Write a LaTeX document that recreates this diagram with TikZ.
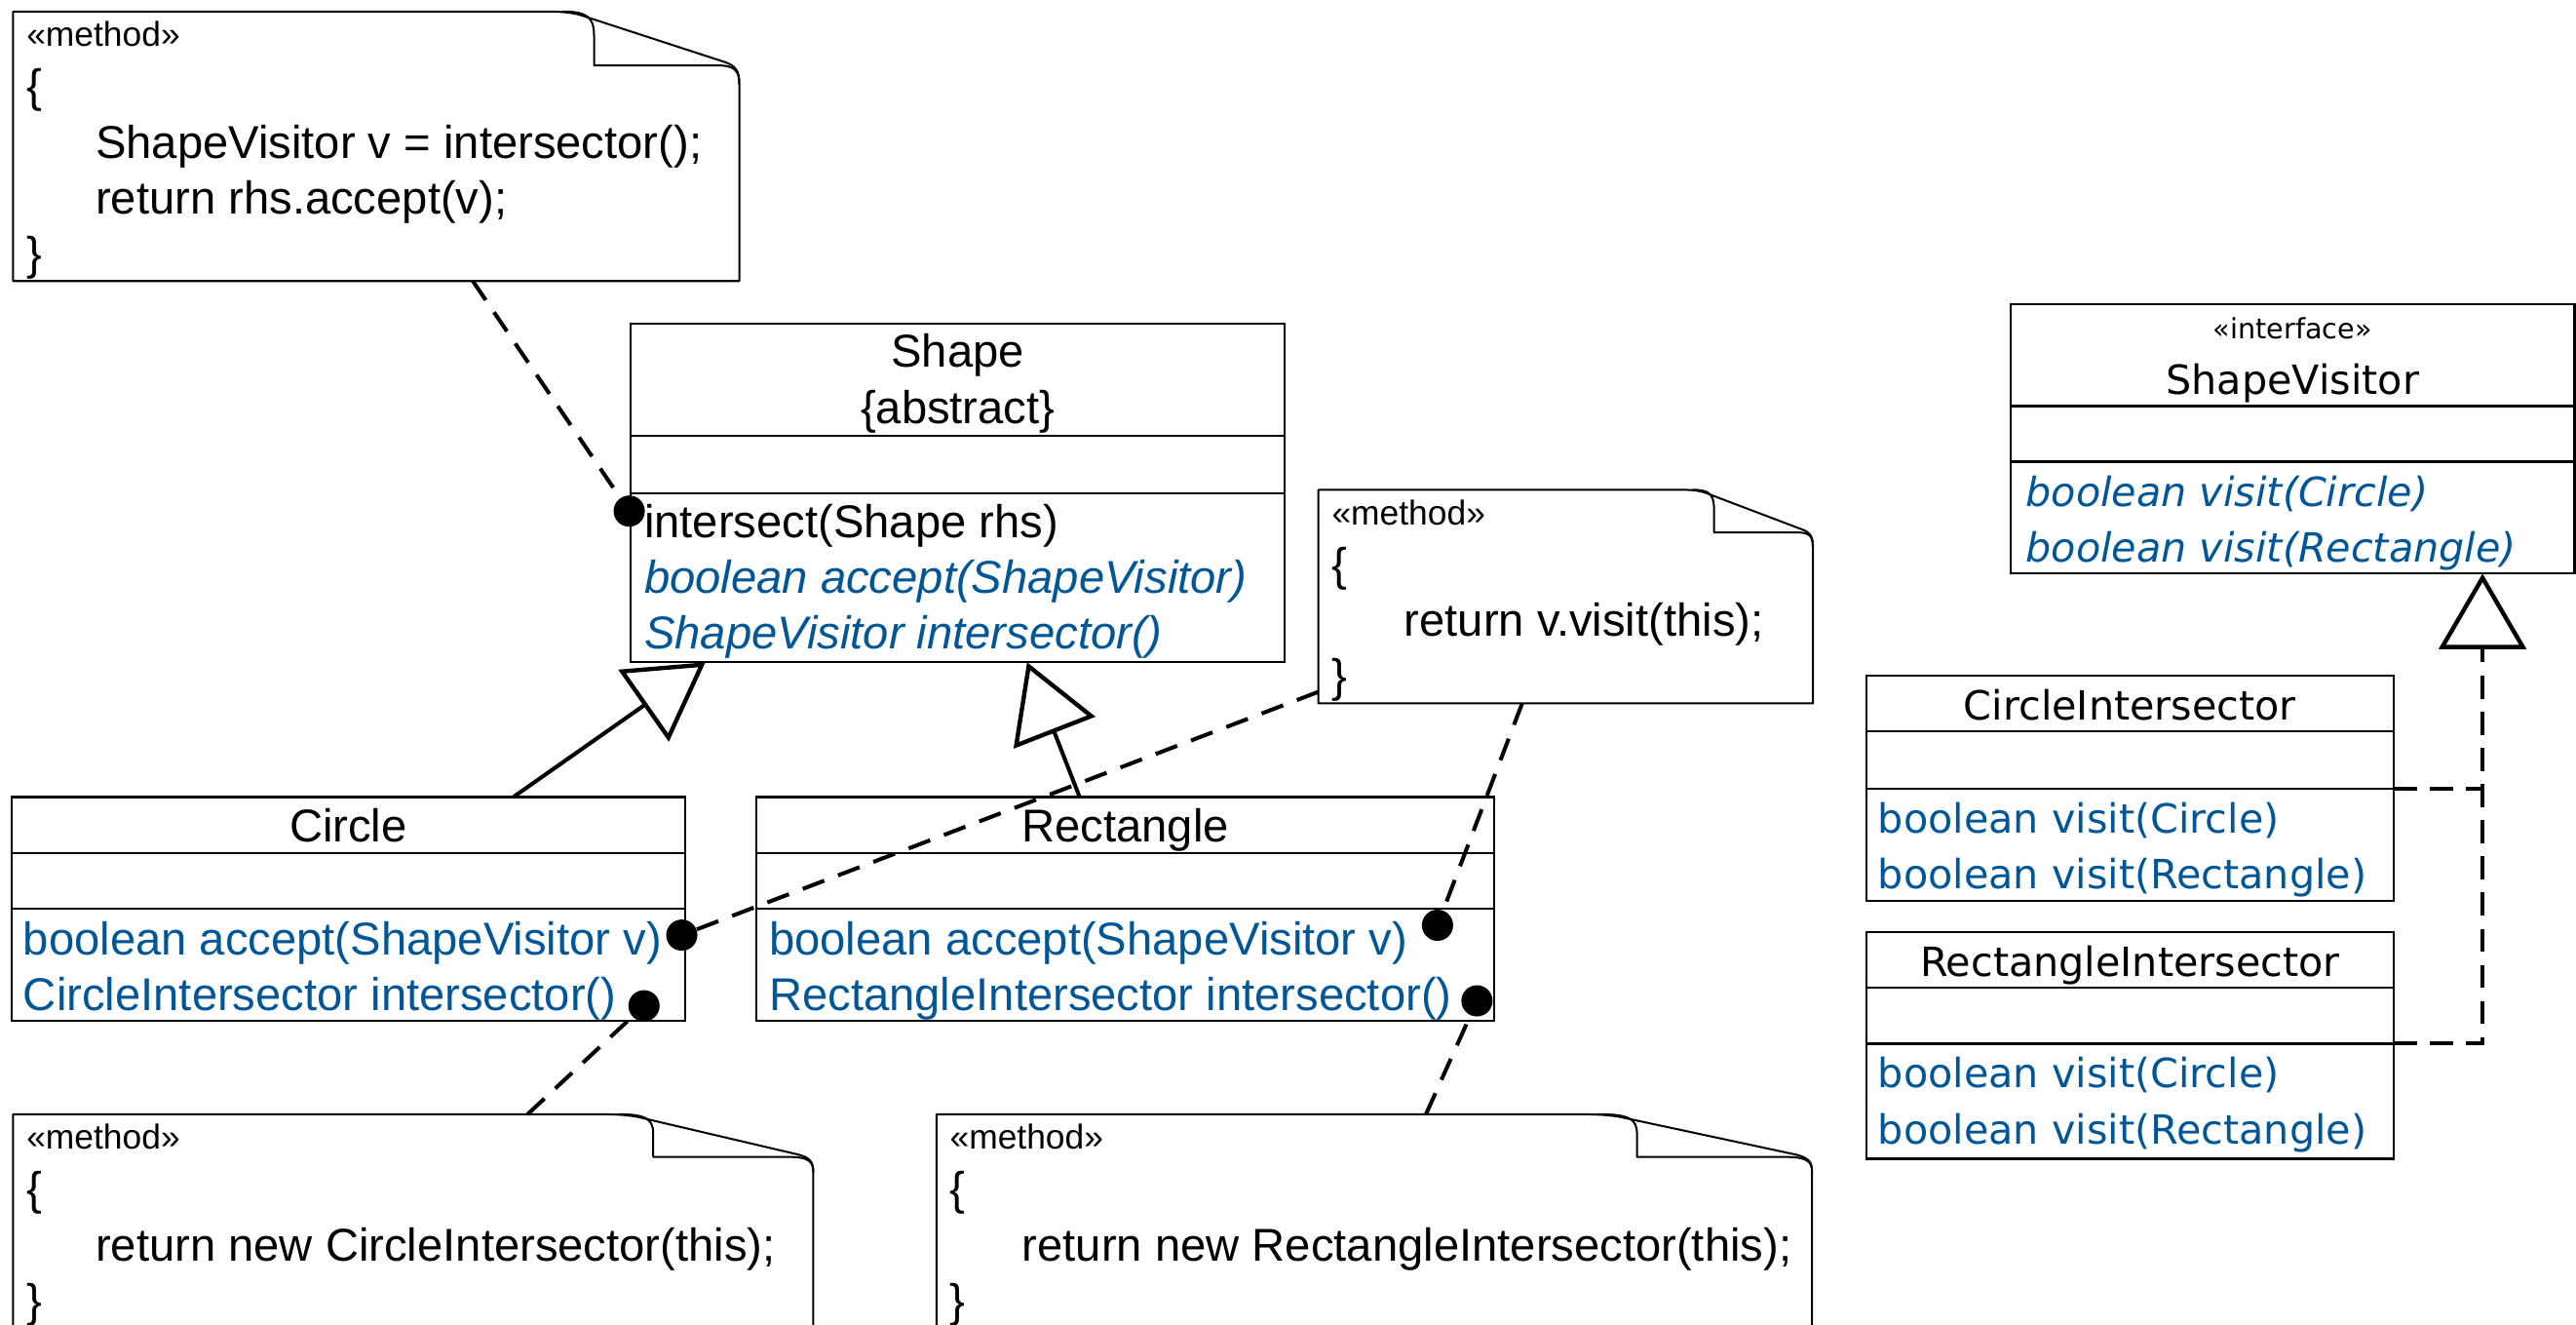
\documentclass[tikz,border=0pt]{standalone}
\usepackage{fontspec}
\setmainfont{Liberation Sans}
\newfontfamily\visfont{DejaVu Sans}
\usepackage{xcolor}
\usepackage{tikz}
\usetikzlibrary{arrows.meta}
\usetikzlibrary{positioning}
\usetikzlibrary{calc}
\definecolor{umlblue}{RGB}{0,86,150}

\newcommand\bodyfont{\fontsize{28}{34}\selectfont}
\newcommand\tagfont{\fontsize{21}{34}\selectfont}
\newcommand\rightfont{\visfont\fontsize{24.5}{34}\selectfont}
\newcommand\rtagfont{\visfont\fontsize{17}{34}\selectfont}

\tikzset{
	classbox/.style={draw, line width=1.4pt, inner sep=0pt, outer sep=0pt, anchor=north west},
	classline/.style={line width=1.4pt},
	classname/.style={inner sep=0pt, anchor=base, font=\bodyfont},
	member/.style={inner sep=0pt, anchor=base west, font=\bodyfont, text=umlblue},
	absmember/.style={member, font=\bodyfont\itshape},
	notebox/.style={inner sep=0pt, outer sep=0pt, anchor=north west},
	notetext/.style={inner sep=0pt, anchor=north west, align=left, font=\bodyfont},
	notefold/.style={line width=1.2pt, line join=round},
	anchordot/.style={circle, fill=black, inner sep=0pt, minimum size=19pt},
	notelink/.style={line width=2.4pt, dash pattern=on 14pt off 9pt},
	extends/.style={line width=2.4pt, -{Triangle[open, length=46pt, width=53pt, line width=2.6pt]}},
	realizes/.style={extends, dash pattern=on 14pt off 8pt},
}

% note outline with folded corner: #1 node, #2 fold width, #3 fold height
\newcommand\dogear[3]{%
	\begin{scope}[shift={(#1.north east)}]
		\pgfmathsetmacro\fw{#2}
		\pgfmathsetmacro\fh{#3}
		\draw[notefold] (#1.north west) -- (-1.35*\fw,0) .. controls (-1.22*\fw,0) and (-1.16*\fw,0.02*\fh) .. (-1.1*\fw,0.06*\fh)
			-- (-0.12*\fw,0.92*\fh) .. controls (-0.02*\fw,\fh) and (0,1.1*\fh) .. (0,1.35*\fh)
			-- (#1.south east) -- (#1.south west) -- cycle;
		\draw[notefold] (-1.22*\fw,0) .. controls (-1.05*\fw,0) and (-\fw,0.1*\fh) .. (-\fw,0.45*\fh)
			-- (-\fw,\fh) -- (-0.15*\fw,\fh) .. controls (-0.03*\fw,\fh) and (0,1.1*\fh) .. (0,1.35*\fh);
	\end{scope}}

\begin{document}
\begin{tikzpicture}[x=1pt, y=-1pt]
	\useasboundingbox (0,0) rectangle (1568,806);

	% classes
	\node[classbox, minimum width=398pt, minimum height=206pt] (shape) at (384,197) {};
	\draw[classline] ($(shape.north west)+(0,68)$) -- ($(shape.north east)+(0,68)$);
	\draw[classline] ($(shape.north west)+(0,103)$) -- ($(shape.north east)+(0,103)$);
	\node[classname] (shapeName) at (583,223.5) {Shape};
	\node[classname] (shapeAbs) at (583,257.5) {\{abstract\}};
	\node[member, text=black] (shapeOpA) at (392,327) {intersect(Shape rhs)};
	\node[absmember] (shapeOpB) at (392,361) {boolean accept(ShapeVisitor)};
	\node[absmember] (shapeOpC) at (392,395) {ShapeVisitor intersector()};

	\node[classbox, minimum width=410pt, minimum height=136pt] (circle) at (7,485) {};
	\draw[classline] ($(circle.north west)+(0,34)$) -- ($(circle.north east)+(0,34)$);
	\draw[classline] ($(circle.north west)+(0,68)$) -- ($(circle.north east)+(0,68)$);
	\node[classname] (circleName) at (212,512.5) {Circle};
	\node[member] (circleOpA) at (14,581) {boolean accept(ShapeVisitor v)};
	\node[member] (circleOpB) at (14,615) {CircleIntersector intersector()};

	\node[classbox, minimum width=449pt, minimum height=136pt] (rect) at (460.5,485) {};
	\draw[classline] ($(rect.north west)+(0,34)$) -- ($(rect.north east)+(0,34)$);
	\draw[classline] ($(rect.north west)+(0,68)$) -- ($(rect.north east)+(0,68)$);
	\node[classname] (rectName) at (685,512.5) {Rectangle};
	\node[member] (rectOpA) at (468,581) {boolean accept(ShapeVisitor v)};
	\node[member] (rectOpB) at (468,615) {RectangleIntersector intersector()};

	\node[classbox, minimum width=343pt, minimum height=164pt] (visitor) at (1224,185) {};
	\draw[classline] ($(visitor.north west)+(0,62)$) -- ($(visitor.north east)+(0,62)$);
	\draw[classline] ($(visitor.north west)+(0,96)$) -- ($(visitor.north east)+(0,96)$);
	\node[classname, font=\rtagfont] (visitorTag) at (1395.5,206) {«interface»};
	\node[classname, font=\rightfont] (visitorName) at (1395.5,240) {ShapeVisitor};
	\node[absmember, font=\rightfont\itshape] (visitorOpA) at (1233,308) {boolean visit(Circle)};
	\node[absmember, font=\rightfont\itshape] (visitorOpB) at (1233,342) {boolean visit(Rectangle)};

	\node[classbox, minimum width=321pt, minimum height=137pt] (cinter) at (1136,411) {};
	\draw[classline] ($(cinter.north west)+(0,34)$) -- ($(cinter.north east)+(0,34)$);
	\draw[classline] ($(cinter.north west)+(0,69)$) -- ($(cinter.north east)+(0,69)$);
	\node[classname, font=\rightfont] (cinterName) at (1296.5,438) {CircleIntersector};
	\node[member, font=\rightfont] (cinterOpA) at (1143,507) {boolean visit(Circle)};
	\node[member, font=\rightfont] (cinterOpB) at (1143,541) {boolean visit(Rectangle)};

	\node[classbox, minimum width=321pt, minimum height=138pt] (rinter) at (1136,567) {};
	\draw[classline] ($(rinter.north west)+(0,34)$) -- ($(rinter.north east)+(0,34)$);
	\draw[classline] ($(rinter.north west)+(0,68)$) -- ($(rinter.north east)+(0,68)$);
	\node[classname, font=\rightfont] (rinterName) at (1296.5,594) {RectangleIntersector};
	\node[member, font=\rightfont] (rinterOpA) at (1143,662) {boolean visit(Circle)};
	\node[member, font=\rightfont] (rinterOpB) at (1143,696) {boolean visit(Rectangle)};

	% method notes
	\node[notebox, minimum width=442pt, minimum height=164pt] (note1) at (8,7) {};
	\dogear{note1}{88.4}{32.8}
	\node[notetext] (note1text) at (16,8) {\rule{0pt}{20pt}{\tagfont «method»}\\\{\\\hspace*{42pt}ShapeVisitor v = intersector();\\\hspace*{42pt}return rhs.accept(v);\\\}};

	\node[notebox, minimum width=301pt, minimum height=130pt] (note2) at (802.5,298) {};
	\dogear{note2}{60.2}{26}
	\node[notetext] (note2text) at (810.5,299) {\rule{0pt}{20pt}{\tagfont «method»}\\\{\\\hspace*{44pt}return v.visit(this);\\\}};

	\node[notebox, minimum width=487pt, minimum height=130pt] (note3) at (8,678) {};
	\dogear{note3}{97.4}{26}
	\node[notetext] (note3text) at (16,679) {\rule{0pt}{20pt}{\tagfont «method»}\\\{\\\hspace*{42pt}return new CircleIntersector(this);\\\}};

	\node[notebox, minimum width=533pt, minimum height=130pt] (note4) at (570,678) {};
	\dogear{note4}{106.6}{26}
	\node[notetext] (note4text) at (578,679) {\rule{0pt}{20pt}{\tagfont «method»}\\\{\\\hspace*{44pt}return new RectangleIntersector(this);\\\}};

	% anchor dots
	\node[anchordot] (dotIntersect) at (383,311) {};
	\node[anchordot] (dotCircleAccept) at (415,569) {};
	\node[anchordot] (dotCircleInter) at (392,612) {};
	\node[anchordot] (dotRectAccept) at (875,563) {};
	\node[anchordot] (dotRectInter) at (899,609) {};

	\draw[notelink] ($(note1.south west)!0.633!(note1.south east)$) -- (dotIntersect);
	\draw[notelink] ($(note2.north west)!0.946!(note2.south west)$) -- (dotCircleAccept);
	\draw[notelink] ($(note2.south west)!0.412!(note2.south east)$) -- (dotRectAccept);
	\draw[notelink] ($(note3.north west)!0.643!(note3.north east)$) -- (dotCircleInter);
	\draw[notelink] ($(note4.north west)!0.559!(note4.north east)$) -- (dotRectInter);

	% generalization
	\draw[extends] ($(circle.north west)!0.745!(circle.north east)$) -- ($(shape.south west)!0.114!(shape.south east)$);
	\draw[extends] ($(rect.north west)!0.438!(rect.north east)$) -- ($(shape.south west)!0.606!(shape.south east)$);

	% realization
	\coordinate (visitorTip) at ($(visitor.south west)!0.837!(visitor.south east)$);
	\coordinate (cinterPort) at ($(cinter.north east)+(0,69)$);
	\coordinate (rinterPort) at ($(rinter.north east)+(0,68)$);
	\draw[realizes] (rinterPort) -| (visitorTip);
	\draw[realizes, -] (cinterPort) -- (cinterPort -| visitorTip);
\end{tikzpicture}
\end{document}
